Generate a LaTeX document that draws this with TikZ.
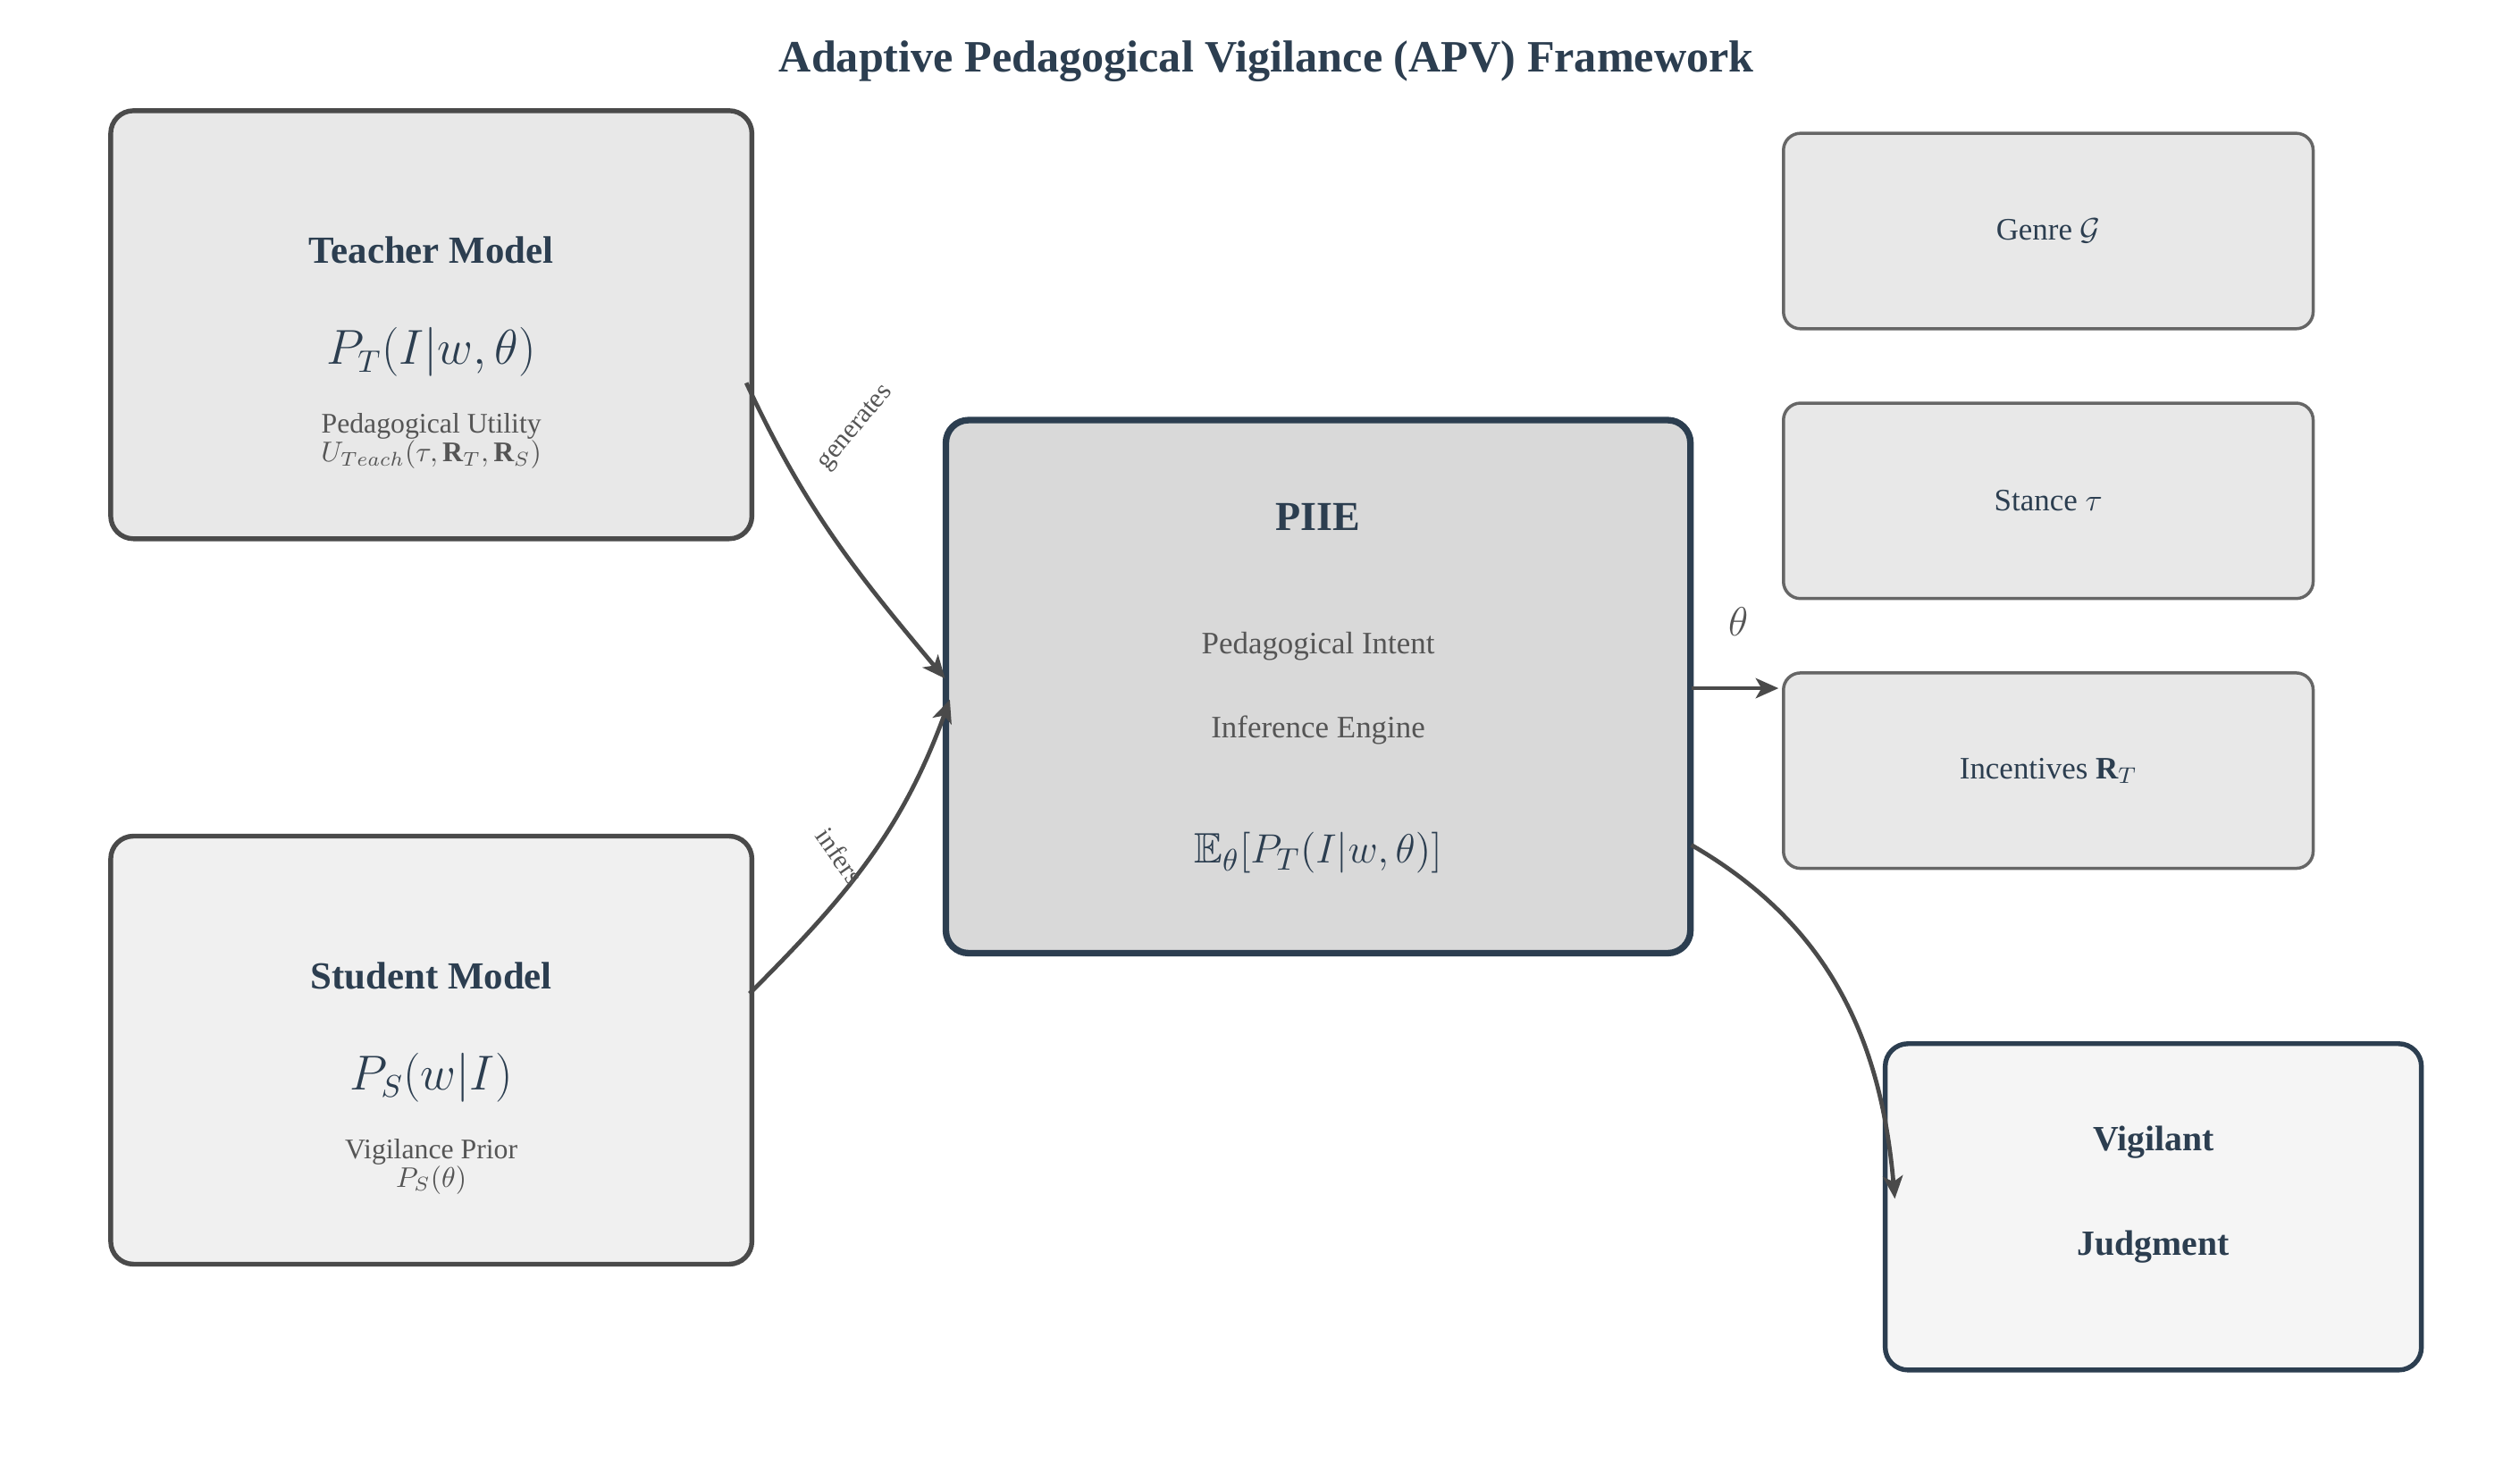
\documentclass[tikz,border=0pt]{standalone}
\usepackage{fontspec}
\setmainfont{Liberation Serif}
\usepackage{amssymb}
\usetikzlibrary{arrows.meta}
\definecolor{navy}{HTML}{2C3E50}
\definecolor{edge}{HTML}{4A4A4A}
\definecolor{soft}{HTML}{555555}
\begin{document}
\begin{tikzpicture}[x=0.02cm,y=-0.02cm,
  model/.style={rectangle,rounded corners=8pt,draw=edge,line width=1.7pt,minimum width=7.94cm,minimum height=5.3cm,align=center,text=navy},
  factor/.style={rectangle,rounded corners=6pt,draw=black!60,line width=1.1pt,fill=black!9,minimum width=6.56cm,minimum height=2.42cm,font=\fontsize{11}{13}\selectfont,text=navy},
  flow/.style={-{Stealth[length=8pt,width=7pt,inset=2pt]},draw=edge,line width=1.5pt},
  lbl/.style={text=soft,font=\fontsize{9.5}{11}\selectfont}]

       \useasboundingbox (0,0) rectangle (1560,911);
       \node[text=navy,font=\bfseries\fontsize{15.8}{18}\selectfont] (title) at (784,38) {Adaptive Pedagogical Vigilance (APV) Framework};

       \node[model,fill=black!9] (teacher) at (267,201) {};
       \node[text=navy,font=\bfseries\fontsize{13.5}{15}\selectfont] (tname) at (267,155) {Teacher Model};
       \node[text=navy,font=\fontsize{16}{18}\selectfont] (tform) at (267,218) {$P_T(I|w,\theta)$};
       \node[text=soft,align=center,font=\fontsize{10}{11}\selectfont] (tutil) at (267,273) {Pedagogical Utility\\[-1pt]$U_{Teach}(\tau,\mathbf{R}_T,\mathbf{R}_S)$};

       \node[model,fill=black!6] (student) at (267,650) {};
       \node[text=navy,font=\bfseries\fontsize{13.5}{15}\selectfont] (sname) at (267,604) {Student Model};
       \node[text=navy,font=\fontsize{16}{18}\selectfont] (sform) at (267,667) {$P_S(w|I)$};
       \node[text=soft,align=center,font=\fontsize{10}{11}\selectfont] (sprior) at (267,722) {Vigilance Prior\\[-1pt]$P_S(\theta)$};

       \node[model,draw=navy,line width=2.3pt,fill=black!15,minimum width=9.22cm,minimum height=6.6cm] (piie) at (816,425) {};
       \node[text=navy,font=\bfseries\fontsize{14.5}{16}\selectfont] (pname) at (816,320) {PIIE};
       \node[text=soft,font=\fontsize{11}{13}\selectfont] (pint) at (816,400) {Pedagogical Intent};
       \node[text=soft,font=\fontsize{11}{13}\selectfont] (peng) at (816,452) {Inference Engine};
       \node[text=navy,font=\fontsize{15}{17}\selectfont] (pexp) at (816,528) {$\mathbb{E}_\theta[P_T(I|w,\theta)]$};

       \node[factor] (genre) at (1268,143) {Genre $\mathcal{G}$};
       \node[factor] (stance) at (1268,310) {Stance $\tau$};
       \node[factor] (incent) at (1268,477) {Incentives $\mathbf{R}_T$};

       \node[model,draw=navy,fill=black!4,minimum width=6.64cm,minimum height=4.04cm] (judge) at (1333,747) {};
       \node[text=navy,font=\bfseries\fontsize{12.5}{14}\selectfont] (jtop) at (1333,707) {Vigilant};
       \node[text=navy,font=\bfseries\fontsize{12.5}{14}\selectfont] (jbot) at (1333,772) {Judgment};

       \coordinate (tout) at (462,237);
       \coordinate (sout) at (464,615);
       \coordinate (pin1) at (585,420);
       \coordinate (pin2) at (588,433);
       \coordinate (pout1) at (1047,426);
       \coordinate (pout2) at (1047,523);
       \coordinate (iin) at (1101,426);
       \coordinate (jin) at (1173,742);

       \draw[flow] (tout) to[out=-65,in=130] (pin1);
       \node[lbl,rotate=50] (gen) at (530,265) {generates};
       \draw[flow] (sout) to[out=45,in=-110] (pin2);
       \node[lbl,rotate=-55] (inf) at (520,530) {infers};
       \draw[flow] (pout1) -- (iin);
       \node[text=soft,font=\fontsize{15}{17}\selectfont] (theta) at (1076,385) {$\theta$};
       \draw[flow] (pout2) to[out=-30,in=95] (jin);
     \end{tikzpicture}
\end{document}
